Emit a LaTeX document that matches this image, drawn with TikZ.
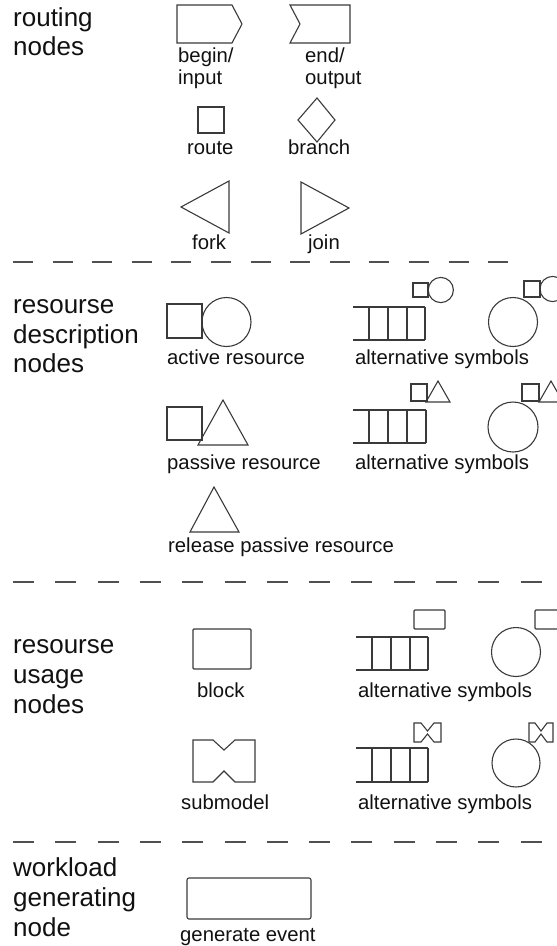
\documentclass[tikz,border=0pt]{standalone}
\usepackage{fontspec}
\setmainfont{Liberation Sans}
\definecolor{shapegray}{HTML}{3A3A3A}
\definecolor{sepgray}{HTML}{505050}
\definecolor{ink}{HTML}{111111}
\begin{document}
\begin{tikzpicture}[x=1pt,y=-1pt,
  shape line/.style={draw=shapegray, line width=1.1pt, line join=miter},
  sep line/.style={draw=sepgray, line width=1.6pt},
  big label/.style={anchor=base west, inner sep=0pt, font=\fontsize{26}{30}\selectfont, text=ink},
  small label/.style={anchor=base west, inner sep=0pt, font=\fontsize{20.3}{23}\selectfont, text=ink}]
\useasboundingbox (0,0) rectangle (557,946);
\clip (0,0) rectangle (557,946);

% ---------- section separators ----------
\coordinate (s1a) at (13,262);  \coordinate (s1b) at (509,262);
\coordinate (s2a) at (13,582);  \coordinate (s2b) at (542,582);
\coordinate (s3a) at (13,842);  \coordinate (s3b) at (542,842);
\draw[sep line, dash pattern=on 20pt off 19.6pt] (s1a) -- (s1b);
\draw[sep line, dash pattern=on 21pt off 21.3pt] (s2a) -- (s2b);
\draw[sep line, dash pattern=on 21pt off 21.3pt] (s3a) -- (s3b);

% ---------- section titles ----------
\node[big label] (t1a) at (13,26)  {routing};
\node[big label] (t1b) at (13,55)  {nodes};
\node[big label] (t2a) at (13,313) {resourse};
\node[big label] (t2b) at (13,343) {description};
\node[big label] (t2c) at (13,372) {nodes};
\node[big label] (t3a) at (13,653) {resourse};
\node[big label] (t3b) at (13,683) {usage};
\node[big label] (t3c) at (13,713) {nodes};
\node[big label] (t4a) at (13,876) {workload};
\node[big label] (t4b) at (13,906) {generating};
\node[big label] (t4c) at (13,936) {node};

% ---------- routing nodes ----------
\draw[shape line] (177,5) -- (232,5) -- (242,24) -- (232,43) -- (177,43) -- cycle;
\node[small label] (lbegin) at (178,62) {begin/};
\node[small label] (linput) at (178,84) {input};
\draw[shape line] (290,5) -- (350,5) -- (350,43) -- (290,43) -- (300,24) -- cycle;
\node[small label] (lend) at (305,62) {end/};
\node[small label] (loutput) at (305,84) {output};

\draw[shape line] (198,107) rectangle (224,133);
\node[small label] (lroute) at (187,154) {route};
\draw[shape line] (317,98) -- (335,120) -- (317,142) -- (298,120) -- cycle;
\node[small label] (lbranch) at (288,154) {branch};

\draw[shape line] (181,207) -- (229,181) -- (229,233) -- cycle;
\node[small label] (lfork) at (192,249) {fork};
\draw[shape line] (301,182) -- (349,208) -- (301,234) -- cycle;
\node[small label] (ljoin) at (308,249) {join};

% ---------- active resource ----------
\draw[shape line] (167,304) rectangle (202,338);
\draw[shape line] (226.5,322) circle [radius=24.5];
\node[small label] (lactive) at (167,364) {active resource};

% queue with server icon
\draw[shape line] (353,307) -- (425,307) (353,340) -- (425,340);
\foreach \x in {369,388,407,425} \draw[shape line] (\x,307) -- (\x,340);
\draw[shape line] (413,283) rectangle (428,297);
\draw[shape line] (440.8,290) circle [radius=12.6];
% server with server icon
\draw[shape line] (513,322) circle [radius=24.5];
\draw[shape line] (524,281) rectangle (540,297);
\draw[shape line] (552.6,289) circle [radius=12.6];
\node[small label] (lalt1) at (355,364) {alternative symbols};

% ---------- passive resource ----------
\draw[shape line] (167,407) rectangle (202,440);
\draw[shape line] (198,445) -- (248,445) -- (223,400) -- cycle;
\node[small label] (lpassive) at (167,469) {passive resource};

\draw[shape line] (353,410) -- (426,410) (353,443) -- (426,443);
\foreach \x in {369,388,407,426} \draw[shape line] (\x,410) -- (\x,443);
\draw[shape line] (411,384) rectangle (427,401);
\draw[shape line] (426,402) -- (450,402) -- (438,381) -- cycle;
\draw[shape line] (513,427) circle [radius=25];
\draw[shape line] (522,384) rectangle (539,401);
\draw[shape line] (539,402) -- (563,402) -- (551,381) -- cycle;
\node[small label] (lalt2) at (355,469) {alternative symbols};

% ---------- release passive resource ----------
\draw[shape line] (190,532) -- (239,532) -- (214,487) -- cycle;
\node[small label] (lrelease) at (168,552) {release passive resource};

% ---------- block ----------
\draw[shape line, rounded corners=1pt] (193,629) rectangle (251,669);
\node[small label] (lblock) at (197,697) {block};

\draw[shape line] (356,637) -- (428,637) (356,670) -- (428,670);
\foreach \x in {372,391,410,428} \draw[shape line] (\x,637) -- (\x,670);
\draw[shape line, rounded corners=1pt] (414,610) rectangle (445,629);
\draw[shape line] (516,652) circle [radius=24.5];
\draw[shape line, rounded corners=1pt] (535,610) rectangle (566,629);
\node[small label] (lalt3) at (358,697) {alternative symbols};

% ---------- submodel ----------
\draw[shape line] (193,740) -- (213,740) -- (224,750) -- (235,740) -- (255,740)
  -- (255,782) -- (235,782) -- (224,771) -- (213,782) -- (193,782) -- cycle;
\node[small label] (lsub) at (181,809) {submodel};

\draw[shape line] (356,748) -- (428,748) (356,782) -- (428,782);
\foreach \x in {372,391,410,428} \draw[shape line] (\x,748) -- (\x,782);
\draw[shape line] (414,723) -- (421,723) -- (427.5,731) -- (434,723) -- (441,723)
  -- (441,742) -- (434,742) -- (427.5,734) -- (421,742) -- (414,742) -- cycle;
\draw[shape line] (516,763) circle [radius=24];
\draw[shape line] (529,723) -- (535,723) -- (541,731) -- (547,723) -- (553,723)
  -- (553,742) -- (547,742) -- (541,734) -- (535,742) -- (529,742) -- cycle;
\node[small label] (lalt4) at (358,809) {alternative symbols};

% ---------- generate event ----------
\draw[shape line, rounded corners=2pt] (187,878) rectangle (311,919);
\node[small label] (lgen) at (180,941) {generate event};
\end{tikzpicture}
\end{document}
